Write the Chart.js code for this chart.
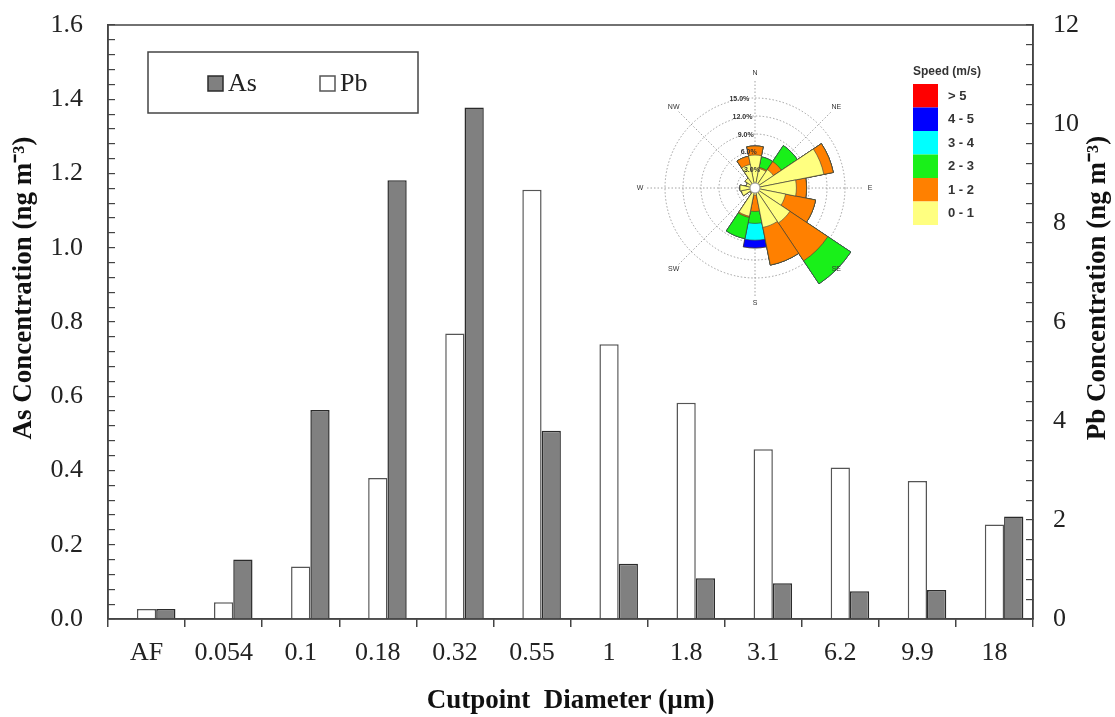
<!DOCTYPE html>
<html>
<head>
<meta charset="utf-8">
<script src="https://cdn.jsdelivr.net/npm/chart.js@4.4.0/dist/chart.umd.min.js"></script>
<style>
  html, body { margin: 0; padding: 0; background: #fff; }
  #wrap { position: relative; width: 1115px; height: 717px; }
  #mainChart { position: absolute; left: 0; top: 0; }
  #roseChart { position: absolute; left: 630px; top: 63px; }
</style>
</head>
<body>
<div id="wrap">
  <canvas id="mainChart" width="1115" height="717"></canvas>
  <canvas id="roseChart" width="390" height="250"></canvas>
</div>
<script>
// size-resolved concentrations
const cutpoints = ['AF', '0.054', '0.1', '0.18', '0.32', '0.55', '1', '1.8', '3.1', '6.2', '9.9', '18'];
const asValues = [0.027, 0.16, 0.563, 1.182, 1.378, 0.507, 0.149, 0.11, 0.096, 0.075, 0.078, 0.276];
const pbValues = [0.2, 0.34, 1.06, 2.85, 5.77, 8.67, 5.55, 4.37, 3.43, 3.06, 2.79, 1.91];

// wind rose, frequency (%) per direction and speed class
const directions = ['N', 'NNE', 'NE', 'ENE', 'E', 'ESE', 'SE', 'SSE', 'S', 'SSW', 'SW', 'WSW', 'W', 'WNW', 'NW', 'NNW'];
const speedClasses = ['0 - 1', '1 - 2', '2 - 3', '3 - 4', '4 - 5', '> 5'];
const speed0to1 = [5.5, 3.3, 3.7, 11.7, 6.9, 5.2, 7.0, 6.7, 1.2, 4.8, 1.0, 2.3, 2.5, 1.5, 2.0, 4.0];
const speed1to2 = [1.5, 0.2, 1.6, 1.6, 1.7, 5.1, 7.6, 6.4, 2.7, 0.2, 0, 0, 0, 0, 0, 1.4];
const speed2to3 = [0, 1.8, 3.2, 0, 0, 0, 4.6, 0, 2.0, 3.6, 0, 0, 0, 0, 0, 0];
const speed3to4 = [0, 0, 0, 0, 0, 0, 0, 0, 2.8, 0, 0, 0, 0, 0, 0, 0];
const speed4to5 = [0, 0, 0, 0, 0, 0, 0, 0, 1.3, 0, 0, 0, 0, 0, 0, 0];
const speedOver5 = [0, 0, 0, 0, 0, 0, 0, 0, 0, 0, 0, 0, 0, 0, 0, 0];
const speedColors = ['#ffff80', '#ff8000', '#19f019', '#00ffff', '#0000ff', '#ff0000'];

const serif = 'Liberation Serif';
const sans = 'Liberation Sans';
Chart.defaults.font.family = serif;
Chart.defaults.color = '#222';

// frame, inside legend and the two y titles (both read bottom to top)
const framePlugin = {
    id: 'frame',
    afterDraw(chart) {
        const ctx = chart.ctx;
        const a = chart.chartArea;
        ctx.save();
        ctx.strokeStyle = '#444';
        ctx.lineWidth = 1.5;
        ctx.strokeRect(a.left, a.top, a.right - a.left, a.bottom - a.top);

        // legend box
        const boxL = a.left + 40, boxT = a.top + 27;
        ctx.strokeRect(boxL, boxT, 270, 61);
        ctx.font = '26px ' + serif;
        ctx.textBaseline = 'middle';
        ctx.textAlign = 'left';
        let x = boxL + 60;
        chart.data.datasets.slice().reverse().filter(d => d.label).forEach(d => {
            ctx.fillStyle = d.backgroundColor;
            ctx.fillRect(x, boxT + 24, 15, 15);
            ctx.strokeStyle = d.borderColor;
            ctx.lineWidth = 1.5;
            ctx.strokeRect(x, boxT + 24, 15, 15);
            ctx.fillStyle = '#222';
            ctx.fillText(d.label, x + 20, boxT + 32);
            x += 112;
        });

        // y titles
        const midY = (a.top + a.bottom) / 2 - 34;
        ctx.font = 'bold 27px ' + serif;
        ctx.fillStyle = '#111';
        ctx.textAlign = 'center';
        [[a.left - 84, 'As Concentration (ng m\u207B\u00B3)'], [a.right + 65, 'Pb Concentration (ng m\u207B\u00B3)']].forEach(([tx, text]) => {
            ctx.save();
            ctx.translate(tx, midY);
            ctx.rotate(-Math.PI / 2);
            ctx.fillText(text, 0, 0);
            ctx.restore();
        });
        ctx.restore();
    }
};

const fixWidth = w => s => { s.width = w; s.paddingTop = 0; s.paddingBottom = 0; };

const mainChart = new Chart(document.getElementById('mainChart'), {
    type: 'bar',
    data: {
        labels: cutpoints,
        datasets: [{
            label: '', // empty slot, pushes the pair right of the category centre like the original
            data: cutpoints.map(() => null),
            yAxisID: 'yAs'
        }, {
            label: 'Pb',
            data: pbValues,
            yAxisID: 'yPb',
            backgroundColor: '#ffffff',
            borderColor: '#555555',
            borderWidth: 1.5
        }, {
            label: 'As',
            data: asValues,
            yAxisID: 'yAs',
            backgroundColor: '#808080',
            borderColor: '#2b2b2b',
            borderWidth: 1.5
        }]
    },
    options: {
        responsive: false,
        animation: false,
        events: [],
        layout: { padding: { top: 25 } },
        datasets: { bar: { categoryPercentage: 0.75, barPercentage: 1 } },
        plugins: { legend: { display: false }, tooltip: { enabled: false } },
        scales: {
            x: {
                grid: { drawOnChartArea: false, tickLength: 8, color: '#444', lineWidth: 1.5 },
                border: { color: '#444', width: 1.5 },
                ticks: { font: { size: 26 }, color: '#222', padding: 11, autoSkip: false, maxRotation: 0 },
                title: {
                    display: true,
                    text: 'Cutpoint  Diameter (\u00B5m)',
                    font: { size: 27, weight: 'bold' },
                    color: '#111',
                    padding: { top: 0, bottom: 0 }
                },
                afterFit: s => { s.height = 98; s.paddingLeft = 0; s.paddingRight = 0; }
            },
            yAs: {
                position: 'left',
                min: 0,
                max: 1.6,
                grid: { drawOnChartArea: false, tickLength: -7, color: '#444', lineWidth: 1.2 },
                border: { color: '#444', width: 1.5 },
                ticks: {
                    stepSize: 0.04,
                    autoSkip: false,
                    padding: 32,
                    font: { size: 26 },
                    color: '#222',
                    callback: v => Math.round(v * 100) % 20 === 0 ? v.toFixed(1) : ''
                },
                afterFit: fixWidth(108)
            },
            yPb: {
                position: 'right',
                min: 0,
                max: 12,
                grid: { drawOnChartArea: false, tickLength: -7, color: '#444', lineWidth: 1.2 },
                border: { color: '#444', width: 1.5 },
                ticks: {
                    stepSize: 0.4,
                    autoSkip: false,
                    padding: 27,
                    font: { size: 26 },
                    color: '#222',
                    callback: v => Math.round(v * 10) % 20 === 0 ? String(Math.round(v)) : ''
                },
                afterFit: fixWidth(82)
            }
        }
    },
    plugins: [framePlugin]
});

// wind rose: speed classes stacked by overlaying cumulative polar areas
const speedRows = [speed0to1, speed1to2, speed2to3, speed3to4, speed4to5, speedOver5];
const cumulative = speedRows.map((row, k) =>
    directions.map((d, i) => speedRows.slice(0, k + 1).reduce((s, r) => s + r[i], 0)));

const rosePlugin = {
    id: 'roseDecor',
    beforeDatasetsDraw(chart) {
        const r = chart.scales.r;
        const ctx = chart.ctx;
        const len = r.drawingArea + 18;
        ctx.save();
        ctx.strokeStyle = '#8a8a8a';
        ctx.lineWidth = 0.8;
        ctx.setLineDash([1.5, 2]);
        for (let k = 0; k < 4; k++) {
            const ang = k * Math.PI / 4;
            ctx.beginPath();
            ctx.moveTo(r.xCenter - len * Math.sin(ang), r.yCenter + len * Math.cos(ang));
            ctx.lineTo(r.xCenter + len * Math.sin(ang), r.yCenter - len * Math.cos(ang));
            ctx.stroke();
        }
        ctx.restore();
    },
    afterDraw(chart) {
        const r = chart.scales.r;
        const ctx = chart.ctx;
        const cx = r.xCenter, cy = r.yCenter;
        ctx.save();
        // calm circle
        ctx.beginPath();
        ctx.arc(cx, cy, 5, 0, Math.PI * 2);
        ctx.fillStyle = '#ffffff';
        ctx.fill();
        ctx.strokeStyle = '#999';
        ctx.lineWidth = 1;
        ctx.stroke();

        // ring labels
        ctx.fillStyle = '#333';
        ctx.font = 'bold 7px ' + sans;
        ctx.textAlign = 'center';
        ctx.textBaseline = 'middle';
        const tickAng = -10 * Math.PI / 180;
        r.ticks.forEach(t => {
            if (t.value === 0) return;
            const d = r.getDistanceFromCenterForValue(t.value);
            ctx.fillText(t.value.toFixed(1) + '%', cx + d * Math.sin(tickAng), cy - d * Math.cos(tickAng));
        });

        // compass labels
        ctx.font = '7px ' + sans;
        const lr = r.drawingArea + 25;
        directions.forEach((name, i) => {
            if (i % 2) return;
            const ang = i * Math.PI / 8;
            ctx.fillText(name, cx + lr * Math.sin(ang), cy - lr * Math.cos(ang));
        });

        // speed legend
        const lx = cx + 158, ly = 21;
        ctx.textAlign = 'left';
        ctx.font = 'bold 12px ' + sans;
        ctx.fillStyle = '#333';
        ctx.fillText('Speed (m/s)', lx, ly - 12);
        ctx.font = 'bold 13px ' + sans;
        chart.data.datasets.slice().reverse().forEach((d, i) => {
            ctx.fillStyle = d.backgroundColor;
            ctx.fillRect(lx, ly + i * 23.5, 25, 23.5);
            ctx.fillStyle = '#333';
            ctx.fillText(d.label, lx + 35, ly + i * 23.5 + 12);
        });
        ctx.restore();
    }
};

const roseChart = new Chart(document.getElementById('roseChart'), {
    type: 'polarArea',
    data: {
        labels: directions,
        datasets: speedClasses.map((cls, k) => ({
            label: cls,
            data: cumulative[k],
            backgroundColor: speedColors[k],
            borderColor: '#3a3a3a',
            borderWidth: 0.6,
            clip: false
        }))
    },
    options: {
        responsive: false,
        animation: false,
        events: [],
        layout: { padding: { left: 35, top: 35, bottom: 35, right: 175 } },
        plugins: { legend: { display: false }, tooltip: { enabled: false } },
        scales: {
            r: {
                min: 0,
                max: 15,
                startAngle: -11.25,
                z: 1,
                ticks: { display: false, stepSize: 3 },
                grid: { color: '#8a8a8a', lineWidth: 0.8, circular: true, borderDash: [1.5, 2] },
                border: { dash: [1.5, 2] },
                angleLines: { display: false },
                pointLabels: { display: false }
            }
        }
    },
    plugins: [rosePlugin]
});
</script>
</body>
</html>
